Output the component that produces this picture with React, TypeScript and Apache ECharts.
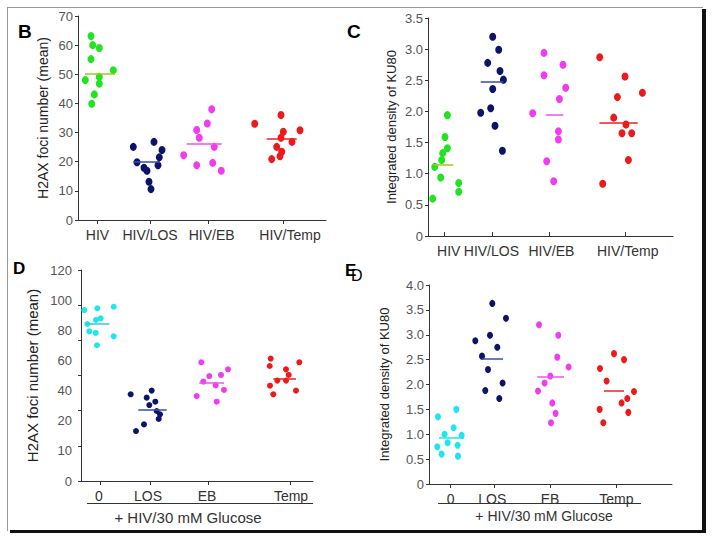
import React, { useEffect, useRef } from "react";
import * as echarts from "echarts";

// ---------- Panel B : H2AX foci number (mean) ----------
const bCategories = ["HIV", "HIV/LOS", "HIV/EB", "HIV/Temp"];
const bTickPos = [1.97, 7.27, 13.03, 20.53];
const bLabelPos = [1.95, 7.2, 13.37, 21.2];
const bX = [
  [1.3, 1.47, 2.13, 1.3, 3.53, 0.73, 2.13, 2.13, 1.63, 1.37],
  [5.53, 7.6, 8.4, 5.9, 8.13, 8.0, 6.6, 6.9, 7.1, 7.3],
  [13.37, 12.93, 11.87, 12.13, 13.63, 10.57, 11.87, 13.47, 14.33],
  [17.67, 20.3, 20.53, 22.2, 20.3, 21.4, 19.87, 20.37, 19.37, 20.2],
];
const bY = [
  [63.1, 60.0, 59.0, 55.2, 51.4, 48.0, 49.1, 46.8, 43.1, 39.9],
  [25.1, 26.8, 24.0, 19.8, 21.5, 18.8, 17.9, 16.9, 13.1, 10.6],
  [38.0, 33.1, 30.9, 28.2, 25.1, 22.2, 18.8, 19.6, 16.9],
  [33.0, 36.0, 30.3, 30.8, 28.2, 26.8, 25.1, 23.4, 20.9, 21.9],
];
const bMeans = [50.2, 20.0, 26.3, 28.0];
const bMeanSpan = [[0.7, 3.7], [5.53, 8.2], [10.87, 14.37], [18.87, 21.87]];

// ---------- Panel C : Integrated density of KU80 ----------
const cCategories = ["HIV", "HIV/LOS", "HIV/EB", "HIV/Temp"];
const cTickPos = [1.6, 6.44, 12.17, 19.74];
const cLabelPos = [2.07, 6.34, 12.34, 19.97];
const cX = [
  [1.94, 1.7, 1.94, 1.47, 1.37, 0.67, 1.27, 3.07, 3.07, 0.47],
  [6.47, 7.07, 5.97, 7.2, 7.54, 6.47, 6.27, 5.27, 6.7, 7.44],
  [11.6, 13.5, 11.6, 13.77, 13.14, 10.47, 13.04, 13.04, 11.87, 12.57],
  [17.17, 19.7, 21.44, 18.94, 18.57, 19.8, 19.4, 20.37, 20.04, 17.47],
];
const cY = [
  [1.94, 1.59, 1.41, 1.33, 1.22, 1.11, 0.94, 0.85, 0.71, 0.6],
  [3.2, 2.99, 2.78, 2.65, 2.51, 2.36, 2.05, 1.98, 1.77, 1.37],
  [2.94, 2.75, 2.58, 2.38, 2.2, 1.97, 1.68, 1.55, 1.2, 0.88],
  [2.87, 2.56, 2.3, 2.23, 1.9, 1.79, 1.65, 1.65, 1.22, 0.84],
];
const cMeans = [1.14, 2.48, 1.95, 1.82];
const cMeanSpan = [[0.47, 2.54], [5.27, 7.54], [11.8, 13.54], [17.14, 20.97]];

// ---------- Panel D : H2AX foci number (mean), + HIV/30 mM Glucose ----------
const dCategories = ["0", "LOS", "EB", "Temp"];
const dTickPos = [1.9, 6.9, 12.73, 20.9];
const dLabelPos = [1.8, 6.7, 12.6, 21.0];
const dYTickLabels = ["0", "10", "20", "40", "60", "80", "100", "120"];
const dX = [
  [0.33, 1.63, 3.27, 0.63, 1.5, 1.97, 0.83, 1.47, 3.27, 1.6],
  [4.97, 7.07, 6.57, 7.43, 6.83, 7.57, 7.9, 7.77, 6.3, 5.5],
  [12.03, 14.7, 12.83, 14.0, 12.23, 13.47, 14.3, 11.57, 13.57],
  [18.97, 18.87, 21.83, 20.5, 20.77, 19.63, 20.5, 18.9, 19.23, 21.5],
];
const dY = [
  [97.2, 98.2, 99.1, 89.3, 91.6, 92.5, 85.1, 84.2, 82.3, 77.2],
  [49.3, 51.4, 47.4, 45.1, 43.2, 39.8, 37.9, 35.3, 32.2, 28.4],
  [67.5, 63.5, 59.7, 60.3, 56.5, 54.4, 51.8, 48.3, 45.1],
  [69.6, 65.4, 67.5, 63.5, 60.3, 57.1, 57.1, 54.2, 49.3, 51.4],
];
const dMeans = [89.3, 40.8, 56.1, 58.4];
const dMeanSpan = [[0.5, 2.83], [5.73, 8.57], [11.83, 14.3], [19.23, 21.5]];

// ---------- Panel E : Integrated density of KU80, + HIV/30 mM Glucose ----------
const eCategories = ["0", "LOS", "EB", "Temp"];
const eTickPos = [2.13, 6.56, 12.13, 18.73];
const eLabelPos = [2.16, 6.33, 12.1, 18.73];
const eX = [
  [2.73, 0.9, 2.46, 1.56, 3.26, 1.86, 2.86, 0.83, 1.26, 2.9],
  [6.33, 7.7, 4.63, 6.1, 6.83, 5.3, 5.9, 7.36, 5.63, 7.03],
  [11.0, 12.93, 12.83, 13.96, 12.13, 11.56, 10.9, 12.33, 12.66, 12.2],
  [18.5, 19.5, 17.1, 17.76, 20.5, 19.83, 19.26, 17.06, 19.93, 17.43],
];
const eY = [
  [1.5, 1.35, 1.13, 1.0, 0.98, 0.83, 0.78, 0.75, 0.6, 0.56],
  [3.63, 3.33, 2.88, 2.99, 2.75, 2.57, 2.3, 2.03, 1.88, 1.72],
  [3.2, 2.99, 2.55, 2.35, 2.17, 2.03, 1.87, 1.63, 1.42, 1.23],
  [2.62, 2.5, 2.32, 2.07, 1.86, 1.72, 1.63, 1.5, 1.44, 1.23],
];
const eMeans = [0.93, 2.51, 2.15, 1.88];
const eMeanSpan = [[1.0, 3.5], [5.26, 7.4], [10.83, 13.5], [17.5, 19.5]];

const GREEN = "#1fe41f";
const NAVY = "#0b1468";
const MAGENTA = "#f03cf0";
const RED = "#ec1a1a";
const CYAN = "#1ee6f0";
const MEAN_COLORS_TOP = ["#a6c41e", "#3c4ab4", "#f050f0", "#ec2020"];
const MEAN_COLORS_BOTTOM = ["#38c8d0", "#3c4ab4", "#f050f0", "#ec2020"];

const FONT = "Liberation Sans, Arial, sans-serif";
const AXIS_COLOR = "#333";

function fmtDec(v: number) {
  return v === 0 ? "0" : v.toFixed(1);
}

function App() {
  const ref = useRef<HTMLDivElement>(null);
  useEffect(() => {
    if (!ref.current) return;
    const chart = echarts.init(ref.current, null, { renderer: "svg" });

    const grids: any[] = [];
    const xAxes: any[] = [];
    const yAxes: any[] = [];
    const series: any[] = [];

    type PanelCfg = {
      grid: any;
      xMax: number;
      cats: string[];
      tickPos: number[];
      labelPos: number[];
      ticksInside?: boolean;
      yMin: number;
      yMax: number;
      yInterval: number;
      yFormatter?: (v: number) => string;
      yName: string;
      yNameGap: number;
      yNameSize: number;
      xs: number[][];
      ys: number[][];
      means: number[];
      spans: number[][];
      colors: string[];
      meanColors: string[];
      symbolSize: number[];
      customYLabels?: string[];
    };

    const addPanel = (p: PanelCfg) => {
      const gi = grids.length;
      grids.push(p.grid);
      const xi = xAxes.length;
      xAxes.push({
        type: "value",
        gridIndex: gi,
        min: 0,
        max: p.xMax,
        axisLine: { show: true, onZero: false, lineStyle: { color: AXIS_COLOR, width: 1 } },
        axisTick: {
          show: true,
          customValues: p.tickPos,
          inside: !!p.ticksInside,
          length: 4,
          lineStyle: { color: AXIS_COLOR },
        },
        axisLabel: {
          show: true,
          customValues: p.labelPos,
          margin: 8,
          color: "#333",
          fontSize: 14,
          fontFamily: FONT,
          formatter: (v: number) => {
            let best = 0;
            p.labelPos.forEach((lp, i) => {
              if (Math.abs(lp - v) < Math.abs(p.labelPos[best] - v)) best = i;
            });
            return p.cats[best];
          },
        },
        splitLine: { show: false },
      });
      const yi = yAxes.length;
      yAxes.push({
        type: "value",
        gridIndex: gi,
        min: p.yMin,
        max: p.yMax,
        interval: p.yInterval,
        name: p.yName,
        nameLocation: "middle",
        nameRotate: 90,
        nameGap: p.yNameGap,
        nameTextStyle: { color: "#222", fontSize: p.yNameSize, fontFamily: FONT },
        axisLine: { show: true, lineStyle: { color: AXIS_COLOR, width: 1 } },
        axisTick: { show: true, length: 3, lineStyle: { color: AXIS_COLOR } },
        axisLabel: {
          show: !p.customYLabels,
          color: "#555",
          fontSize: 13,
          fontFamily: FONT,
          margin: 5,
          formatter: p.yFormatter ? p.yFormatter : (v: number) => String(v),
        },
        splitLine: { show: false },
      });
      if (p.customYLabels) {
        const labels = p.customYLabels;
        yAxes.push({
          type: "value",
          gridIndex: gi,
          position: "left",
          min: 0,
          max: labels.length - 1,
          interval: 1,
          axisLine: { show: false },
          axisTick: { show: false },
          axisLabel: {
            show: true,
            color: "#555",
            fontSize: 13,
            fontFamily: FONT,
            margin: 9,
            formatter: (v: number) => labels[Math.round(v)] ?? "",
          },
          splitLine: { show: false },
        });
      }
      p.xs.forEach((xsArr, g) => {
        series.push({
          type: "scatter",
          xAxisIndex: xi,
          yAxisIndex: yi,
          symbol: "circle",
          symbolSize: p.symbolSize,
          itemStyle: { color: p.colors[g], opacity: 1 },
          data: xsArr.map((x, k) => [x, p.ys[g][k]]),
          markLine: {
            silent: true,
            symbol: ["none", "none"],
            label: { show: false },
            lineStyle: { color: p.meanColors[g], width: 1.5, type: "solid" },
            data: [
              [
                { coord: [p.spans[g][0], p.means[g]] },
                { coord: [p.spans[g][1], p.means[g]] },
              ],
            ],
          },
        });
      });
    };

    addPanel({
      grid: { left: 78, top: 16, width: 248, height: 204 },
      xMax: 24.8,
      cats: bCategories,
      tickPos: bTickPos,
      labelPos: bLabelPos,
      yMin: 0,
      yMax: 70,
      yInterval: 10,
      yName: "H2AX foci number (mean)",
      yNameGap: 28,
      yNameSize: 14,
      xs: bX,
      ys: bY,
      means: bMeans,
      spans: bMeanSpan,
      colors: [GREEN, NAVY, MAGENTA, RED],
      meanColors: MEAN_COLORS_TOP,
      symbolSize: [7, 8],
    });
    addPanel({
      grid: { left: 428, top: 18, width: 245, height: 218 },
      xMax: 24.5,
      cats: cCategories,
      tickPos: cTickPos,
      labelPos: cLabelPos,
      ticksInside: true,
      yMin: 0,
      yMax: 3.5,
      yInterval: 0.5,
      yFormatter: fmtDec,
      yName: "Integrated density of KU80",
      yNameGap: 30,
      yNameSize: 13,
      xs: cX,
      ys: cY,
      means: cMeans,
      spans: cMeanSpan,
      colors: [GREEN, NAVY, MAGENTA, RED],
      meanColors: MEAN_COLORS_TOP,
      symbolSize: [7, 8],
    });
    addPanel({
      grid: { left: 81, top: 270, width: 232, height: 211 },
      xMax: 23.2,
      cats: dCategories,
      tickPos: dTickPos,
      labelPos: dLabelPos,
      yMin: 0,
      yMax: 120,
      yInterval: 20,
      yName: "H2AX foci number (mean)",
      yNameGap: 41,
      yNameSize: 15,
      xs: dX,
      ys: dY,
      means: dMeans,
      spans: dMeanSpan,
      colors: [CYAN, NAVY, MAGENTA, RED],
      meanColors: MEAN_COLORS_BOTTOM,
      symbolSize: [6, 6],
      customYLabels: dYTickLabels,
    });
    addPanel({
      grid: { left: 429, top: 285, width: 243, height: 199 },
      xMax: 24.3,
      cats: eCategories,
      tickPos: eTickPos,
      labelPos: eLabelPos,
      yMin: 0,
      yMax: 4,
      yInterval: 0.5,
      yFormatter: fmtDec,
      yName: "Integrated density of KU80",
      yNameGap: 38,
      yNameSize: 13,
      xs: eX,
      ys: eY,
      means: eMeans,
      spans: eMeanSpan,
      colors: [CYAN, NAVY, MAGENTA, RED],
      meanColors: [CYAN, "#3c4ab4", "#f050f0", "#ec2020"],
      symbolSize: [6, 7],
    });

    const letter = (t: string, x: number, y: number, size: number, bold = true) => ({
      type: "text",
      x,
      y,
      style: {
        text: t,
        fill: "#000",
        font: `${bold ? "bold " : ""}${size}px ${FONT}`,
      },
    });

    chart.setOption({
      animation: false,
      backgroundColor: "#fff",
      grid: grids,
      xAxis: xAxes,
      yAxis: yAxes,
      series,
      graphic: [
        { type: "line", shape: { x1: 7, y1: 7.5, x2: 703, y2: 7.5 }, style: { stroke: "#999", lineWidth: 1 } },
        { type: "line", shape: { x1: 7.5, y1: 7, x2: 7.5, y2: 531 }, style: { stroke: "#999", lineWidth: 1 } },
        { type: "rect", shape: { x: 702, y: 9, width: 4, height: 524 }, style: { fill: "#111" } },
        { type: "rect", shape: { x: 10, y: 530, width: 696, height: 3 }, style: { fill: "#111" } },
        { type: "line", shape: { x1: 87, y1: 503.5, x2: 313, y2: 503.5 }, style: { stroke: "#333", lineWidth: 1 } },
        { type: "line", shape: { x1: 438, y1: 503.5, x2: 641, y2: 503.5 }, style: { stroke: "#333", lineWidth: 1 } },
        {
          type: "text",
          x: 188,
          y: 517,
          style: { text: "+ HIV/30 mM Glucose", fill: "#333", font: `15px ${FONT}`, textAlign: "center", textVerticalAlign: "middle" },
        },
        {
          type: "text",
          x: 544,
          y: 516,
          style: { text: "+ HIV/30 mM Glucose", fill: "#333", font: `14px ${FONT}`, textAlign: "center", textVerticalAlign: "middle" },
        },
        letter("B", 18, 22, 19),
        letter("C", 347, 22, 19),
        letter("D", 13, 260, 17),
        letter("D", 351, 267, 16, false),
        letter("E", 345, 262, 17),
      ],
    });
    return () => chart.dispose();
  }, []);
  return (
    <div
      ref={ref}
      style={{ position: "fixed", left: 0, top: 0, width: 714, height: 539, background: "#fff" }}
    />
  );
}

export default App;
